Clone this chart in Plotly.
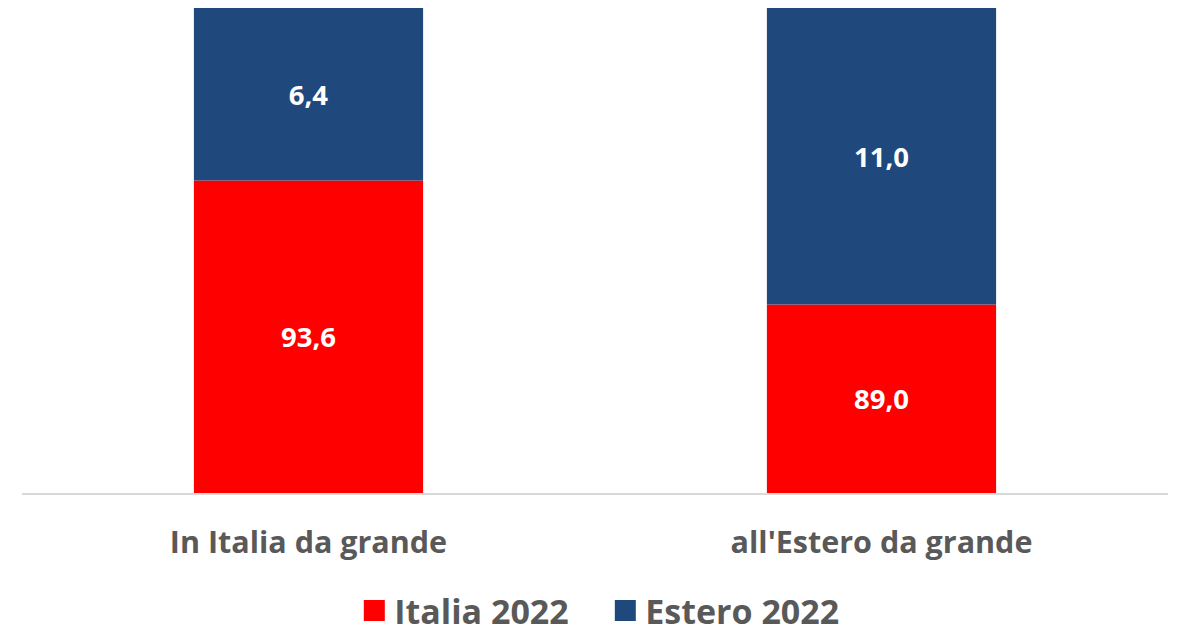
import plotly.graph_objects as go

categories = ["In Italia da grande", "all'Estero da grande"]
italia_2022 = [93.6, 89.0]
estero_2022 = [6.4, 11.0]
series_names = ["Italia 2022", "Estero 2022"]
y_min, y_max = 82, 100

RED = "#FF0000"
BLUE = "#1F497D"
GREY = "#595959"
FONT = "Open Sans"

def fmt(v):
    return f"{v:.1f}".replace(".", ",")

fig = go.Figure()
fig.add_trace(go.Bar(
    x=categories, y=[v - y_min for v in italia_2022], base=[y_min] * len(italia_2022),
    marker=dict(color=RED, line=dict(width=0)),
    text=[fmt(v) for v in italia_2022], textposition="inside", insidetextanchor="middle",
    textfont=dict(family=FONT, size=27.5, color="white", weight="bold"),
    name=series_names[0], showlegend=False, hoverinfo="skip",
))
fig.add_trace(go.Bar(
    x=categories, y=estero_2022, base=italia_2022,
    marker=dict(color=BLUE, line=dict(width=0)),
    text=[fmt(v) for v in estero_2022], textposition="inside", insidetextanchor="middle",
    textfont=dict(family=FONT, size=27.5, color="white", weight="bold"),
    name=series_names[1], showlegend=False, hoverinfo="skip",
))
for name, col in zip(series_names, [RED, BLUE]):
    fig.add_trace(go.Scatter(
        x=[None], y=[None], mode="markers", name=name,
        marker=dict(symbol="square", size=16, color=col, line=dict(color=col, width=5)),
    ))

# page body has an 8px offset; margins compensate so the plot lands at the reference position
fig.update_layout(
    width=1179, height=625,
    margin=dict(l=14, r=19, t=0, b=140, autoexpand=False),
    plot_bgcolor="white", paper_bgcolor="white",
    barmode="overlay", bargap=0.6,
    showlegend=True,
    legend=dict(orientation="h", x=0.509, xanchor="center", y=-0.243, yanchor="middle",
                font=dict(family=FONT, size=34, color=GREY, weight="bold"),
                itemsizing="trace", itemwidth=30, traceorder="normal",
                entrywidth=206, entrywidthmode="pixels"),
    font=dict(family=FONT, color=GREY),
)
fig.update_xaxes(showgrid=False, showline=True, linecolor="#D9D9D9", linewidth=2,
                 tickfont=dict(family=FONT, size=30.5, color=GREY, weight="bold"),
                 ticks="", ticklabelstandoff=21, automargin=False)
fig.update_yaxes(range=[y_min, y_max], visible=False, showgrid=False)

fig.write_html("out.html")
